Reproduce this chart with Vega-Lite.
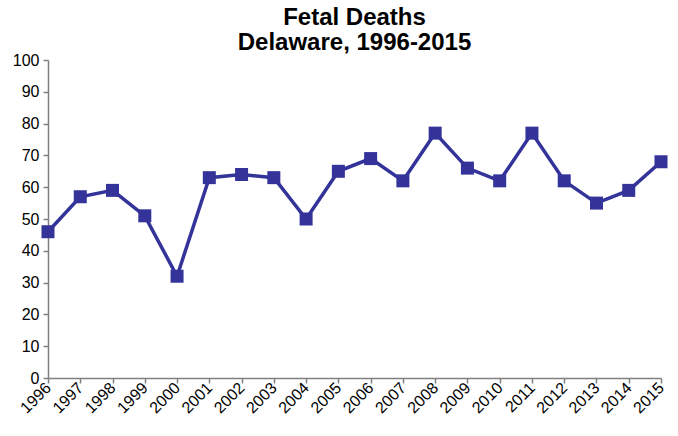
{
  "$schema": "https://vega.github.io/schema/vega-lite/v6.json",
  "width": 613,
  "height": 318,
  "autosize": {"type": "none"},
  "padding": {"left": 48, "top": 60, "right": 17, "bottom": 58},
  "background": "white",
  "title": {
    "text": ["Fetal Deaths", "Delaware, 1996-2015"],
    "font": "Liberation Sans",
    "fontSize": 24,
    "fontWeight": "bold",
    "color": "#000000",
    "lineHeight": 25,
    "anchor": "middle",
    "offset": -3
  },
  "config": {
    "view": {"stroke": null},
    "style": {"guide-label": {"fontSize": 16, "font": "Liberation Sans", "fill": "#000000"}}
  },
  "data": {
    "values": [
      {"year": "1996", "deaths": 46},
      {"year": "1997", "deaths": 57},
      {"year": "1998", "deaths": 59},
      {"year": "1999", "deaths": 51},
      {"year": "2000", "deaths": 32},
      {"year": "2001", "deaths": 63},
      {"year": "2002", "deaths": 64},
      {"year": "2003", "deaths": 63},
      {"year": "2004", "deaths": 50},
      {"year": "2005", "deaths": 65},
      {"year": "2006", "deaths": 69},
      {"year": "2007", "deaths": 62},
      {"year": "2008", "deaths": 77},
      {"year": "2009", "deaths": 66},
      {"year": "2010", "deaths": 62},
      {"year": "2011", "deaths": 77},
      {"year": "2012", "deaths": 62},
      {"year": "2013", "deaths": 55},
      {"year": "2014", "deaths": 59},
      {"year": "2015", "deaths": 68}
    ]
  },
  "encoding": {
    "x": {
      "field": "year",
      "type": "ordinal",
      "scale": {"type": "point", "padding": 0},
      "axis": {
        "title": null,
        "labelAngle": -45,
        "labelAlign": "right",
        "labelBaseline": "middle",
        "labelPadding": 2,
        "domainColor": "#808080",
        "domainWidth": 1.5,
        "tickColor": "#808080",
        "tickSize": 5,
        "tickWidth": 1.5,
        "grid": false,
        "encode": {"labels": {"update": {"fontSize": {"value": 16}}}}
      }
    },
    "y": {
      "field": "deaths",
      "type": "quantitative",
      "scale": {"domain": [0, 100], "nice": false},
      "axis": {
        "title": null,
        "values": [0, 10, 20, 30, 40, 50, 60, 70, 80, 90, 100],
        "labelPadding": 4,
        "domainColor": "#808080",
        "domainWidth": 1.5,
        "tickColor": "#808080",
        "tickSize": 5,
        "tickWidth": 1.5,
        "grid": false,
        "encode": {"labels": {"update": {"fontSize": {"value": 16}}}}
      }
    }
  },
  "layer": [
    {"mark": {"type": "line", "color": "#333399", "strokeWidth": 3.5}},
    {"mark": {"type": "point", "shape": "square", "filled": true, "size": 169, "color": "#333399", "opacity": 1}}
  ]
}
